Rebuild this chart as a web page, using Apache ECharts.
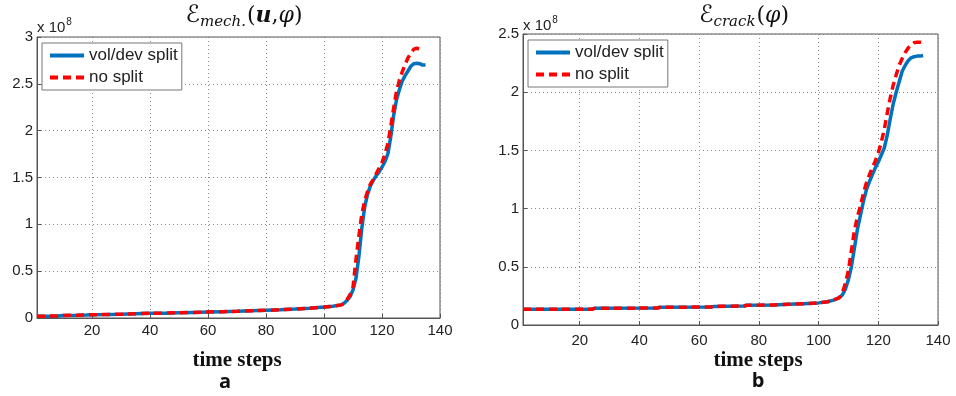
<!DOCTYPE html>
<html><head><meta charset="utf-8">
<script src="https://cdn.jsdelivr.net/npm/echarts@6/dist/echarts.min.js"></script>
<style>html,body{margin:0;padding:0;background:#fff}#c{width:956px;height:396px}</style>
</head><body><div id="c"></div>
<script>
// ---- data (values in units of 1e8) ----
const xTicks = [20, 40, 60, 80, 100, 120, 140];
const yTicksA = [0, 0.5, 1, 1.5, 2, 2.5, 3];
const yTicksB = [0, 0.5, 1, 1.5, 2, 2.5];
const seriesNames = ['vol/dev split', 'no split'];

// panel a: E_mech(u, phi)
const mechStepsLow = [1,5,8,10,15,18,20,25,30,35,40,45,50,55,60,65,70,75,80,85,90,95,100,103,106,107];
const mechLow = [0.018,0.02,0.022,0.027,0.03,0.032,0.035,0.037,0.04,0.045,0.05,0.052,0.056,0.06,0.064,0.068,0.072,0.078,0.082,0.088,0.095,0.105,0.117,0.125,0.14,0.16];
const mechSplitSteps = [108,109,110,111,112,113,114,115,116,117,118,119,120,121,122,123,124,125,126,127,128,129,130,131,132,133,134,135];
const mechSplitHigh = [0.19,0.23,0.3,0.42,0.65,0.95,1.18,1.32,1.41,1.47,1.52,1.56,1.61,1.67,1.75,1.93,2.16,2.33,2.44,2.53,2.59,2.64,2.69,2.715,2.72,2.715,2.70,2.70];
const mechNoSplitSteps = [108,109,110,111,112,113,114,115,116,117,118,119,120,121,122,123,124,125,126,127,128,129,130,131,132,133];
const mechNoSplitHigh = [0.2,0.25,0.33,0.62,0.87,1.1,1.25,1.35,1.43,1.48,1.54,1.6,1.66,1.75,1.86,2.04,2.24,2.42,2.54,2.63,2.71,2.78,2.83,2.87,2.88,2.87];

// panel b: E_crack(phi)
const crackStepsLow = [1,24,25,46,47,64,65,75,76,85,90,95,100,103,105,107];
const crackLow = [0.135,0.135,0.143,0.146,0.152,0.155,0.16,0.163,0.17,0.172,0.178,0.183,0.19,0.2,0.214,0.235];
const crackSteps = [108,109,110,111,112,113,114,115,116,117,118,119,120,121,122,123,124,125,126,127,128,129,130,131,132,133,134,135];
const crackSplitHigh = [0.26,0.31,0.39,0.5,0.66,0.82,0.94,1.06,1.16,1.23,1.29,1.35,1.40,1.46,1.52,1.63,1.77,1.9,2.0,2.09,2.18,2.23,2.27,2.295,2.305,2.31,2.31,2.315];
const crackNoSplitHigh = [0.28,0.36,0.47,0.64,0.81,0.93,1.02,1.13,1.22,1.29,1.35,1.41,1.48,1.57,1.68,1.82,1.95,2.06,2.15,2.23,2.29,2.34,2.38,2.405,2.425,2.43,2.43,2.425];

function pairs(xs, ys) { return xs.map((x, i) => [x, ys[i]]); }
const aSplit = pairs(mechStepsLow, mechLow).concat(pairs(mechSplitSteps, mechSplitHigh));
const aNoSplit = pairs(mechStepsLow, mechLow).concat(pairs(mechNoSplitSteps, mechNoSplitHigh));
const bSplit = pairs(crackStepsLow, crackLow).concat(pairs(crackSteps, crackSplitHigh));
const bNoSplit = pairs(crackStepsLow, crackLow).concat(pairs(crackSteps, crackNoSplitHigh));

const BLUE = '#0072BD', RED = '#FF0000', FRAME = '#555';
const sans = 'Liberation Sans, Arial, sans-serif';

function xAxis(gi) {
  return {
    type: 'value', gridIndex: gi, min: 1, max: 140,
    axisLine: { show: true, onZero: false, lineStyle: { color: FRAME, width: 1 } },
    axisTick: { show: true, inside: true, length: 4, customValues: xTicks, lineStyle: { color: FRAME } },
    axisLabel: { customValues: xTicks, fontSize: 15, color: '#222', fontFamily: sans, margin: gi === 0 ? 5 : 8 },
    splitLine: { show: true, lineStyle: { type: [1, 3], color: '#888', width: 1 } }
  };
}
function yAxis(gi, ticks) {
  return {
    type: 'value', gridIndex: gi, min: ticks[0], max: ticks[ticks.length - 1], interval: 0.5,
    axisLine: { show: true, lineStyle: { color: FRAME, width: 1 } },
    axisTick: { show: true, inside: true, length: 4, lineStyle: { color: FRAME } },
    axisLabel: { fontSize: 15, color: '#222', fontFamily: sans, margin: 4, showMaxLabel: true },
    splitLine: { show: true, lineStyle: { type: [1, 3], color: '#888', width: 1 } }
  };
}
function line(name, gi, data, color, dashed) {
  return {
    name, type: 'line', xAxisIndex: gi, yAxisIndex: gi, data, symbol: 'none', animation: false,
    lineStyle: { color, width: 3.5, type: dashed ? [8, 5] : 'solid' }, itemStyle: { color },
    z: dashed ? 3 : 2
  };
}
function legend(left, top) {
  return {
    left, top, orient: 'vertical', data: seriesNames, backgroundColor: '#fff',
    borderColor: '#777', borderWidth: 1, padding: [4, 4, 4, 6], itemGap: 5,
    itemWidth: 34, itemHeight: 14, selectedMode: false,
    itemStyle: { opacity: 0 },
    lineStyle: { width: 4 },
    textStyle: { fontSize: 17, color: '#222', fontFamily: sans }
  };
}
function title(x, text, rich) {
  return { type: 'text', x, y: 16, style: { text, rich, align: 'center', verticalAlign: 'middle', fill: '#111' } };
}
const titleRich = {
  E: { fontSize: 24, fontFamily: 'DejaVu Sans, sans-serif', fill: '#111' },
  sub: { fontSize: 15, fontStyle: 'italic', fontFamily: 'DejaVu Serif, serif', padding: [12, 1, 0, 0], fill: '#111' },
  p: { fontSize: 22, fontFamily: 'DejaVu Serif, serif', fill: '#111' },
  i: { fontSize: 22, fontStyle: 'italic', fontFamily: 'DejaVu Serif, serif', fill: '#111' },
  b: { fontSize: 22, fontStyle: 'italic', fontWeight: 'bold', fontFamily: 'DejaVu Serif, serif', fill: '#111' }
};
const expRich = {
  a: { fontSize: 15, fontFamily: sans, fill: '#222' },
  s: { fontSize: 10, fontFamily: sans, fill: '#222', padding: [0, 0, 12, 1] }
};
function txt(x, y, text, font, size, weight) {
  return { type: 'text', x, y, style: { text, align: 'center', verticalAlign: 'middle', fontFamily: font, fontSize: size, fontWeight: weight, fill: '#111' } };
}

const chart = echarts.init(document.getElementById('c'), null, { renderer: 'canvas' });
chart.setOption({
  animation: false,
  backgroundColor: '#fff',
  grid: [
    { left: 37, top: 37, width: 403, height: 281, show: true, borderColor: FRAME, borderWidth: 1, backgroundColor: '#fff' },
    { left: 523, top: 34, width: 415, height: 291, show: true, borderColor: FRAME, borderWidth: 1, backgroundColor: '#fff' }
  ],
  xAxis: [xAxis(0), xAxis(1)],
  yAxis: [yAxis(0, yTicksA), yAxis(1, yTicksB)],
  legend: [legend(42, 43), legend(528, 40)],
  series: [
    line(seriesNames[0], 0, aSplit, BLUE, false),
    line(seriesNames[1], 0, aNoSplit, RED, true),
    line(seriesNames[0], 1, bSplit, BLUE, false),
    line(seriesNames[1], 1, bNoSplit, RED, true)
  ],
  graphic: [
    title(244, '{E|ℰ}{sub|mech.}{p|(}{b|u}{p|,}{i|φ}{p|)}', titleRich),
    title(744, '{E|ℰ}{sub|crack}{p|(}{i|φ}{p|)}', titleRich),
    { type: 'text', x: 37, y: 28, style: { text: '{a|x 10}{s|8}', rich: expRich, align: 'left', verticalAlign: 'middle' } },
    { type: 'text', x: 523, y: 26, style: { text: '{a|x 10}{s|8}', rich: expRich, align: 'left', verticalAlign: 'middle' } },
    txt(237, 361, 'time steps', 'Liberation Serif, serif', 21, 'bold'),
    txt(758, 361, 'time steps', 'Liberation Serif, serif', 21, 'bold'),
    txt(225, 382, 'a', 'Open Sans, sans-serif', 20, 'bold'),
    txt(758, 381, 'b', 'Open Sans, sans-serif', 20, 'bold')
  ]
});
</script></body></html>
